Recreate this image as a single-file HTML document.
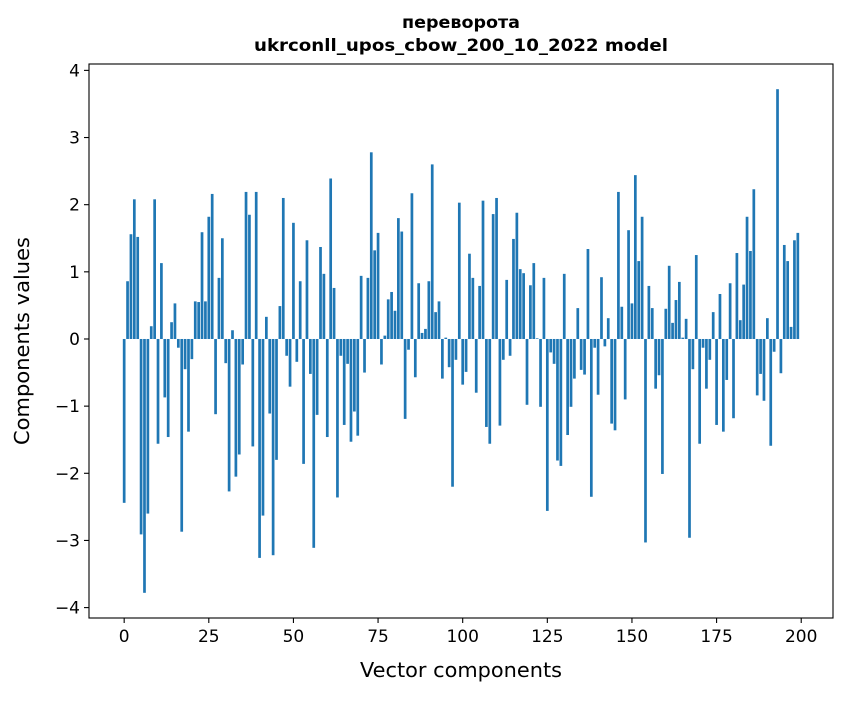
<!DOCTYPE html>
<html><head><meta charset="utf-8"><style>
body{margin:0;background:#fff;}
svg text{font-family:"DejaVu Sans","Liberation Sans",sans-serif;}
</style></head><body>
<svg id="chart" width="847" height="696" xmlns="http://www.w3.org/2000/svg">
<rect width="847" height="696" fill="#fff"/>
<text x="461" y="28" text-anchor="middle" font-size="17" font-weight="bold" font-family="Liberation Sans, sans-serif" textLength="118" lengthAdjust="spacingAndGlyphs">переворота</text>
<text x="461" y="51" text-anchor="middle" font-size="17" font-weight="bold" font-family="Liberation Sans, sans-serif" textLength="414" lengthAdjust="spacingAndGlyphs">ukrconll_upos_cbow_200_10_2022 model</text>
<g id="bars"></g>
<g id="yticks"></g>
<g id="xticks"></g>
<rect x="89" y="64" width="744" height="554" fill="none" stroke="#000" stroke-width="1.1"/>
<text x="461" y="677" text-anchor="middle" font-size="20" textLength="202" lengthAdjust="spacingAndGlyphs">Vector components</text>
<text transform="translate(29,341) rotate(-90)" text-anchor="middle" font-size="20" textLength="208" lengthAdjust="spacingAndGlyphs">Components values</text>
</svg>
<script>
const values = [-2.44,0.86,1.56,2.08,1.52,-2.91,-3.78,-2.6,0.19,2.08,
-1.56,1.13,-0.87,-1.46,0.25,0.53,-0.13,-2.87,-0.45,-1.38,
-0.3,0.56,0.55,1.59,0.56,1.82,2.16,-1.12,0.91,1.5,
-0.36,-2.27,0.13,-2.05,-1.72,-0.38,2.19,1.85,-1.6,2.19,
-3.26,-2.63,0.33,-1.11,-3.22,-1.8,0.49,2.1,
-0.25,-0.71,1.73,-0.34,0.86,-1.86,1.47,-0.52,-3.11,-1.13,1.37,0.97,-1.46,2.39,0.76,-2.36,-0.25,-1.28,-0.37,-1.53,-1.08,-1.44,0.94,-0.5,0.91,2.78,1.32,1.58,-0.38,0.05,0.59,0.7,0.42,1.8,1.6,-1.19,-0.16,2.17,-0.57,0.83,0.09,0.15,0.86,2.6,0.4,0.56,-0.59,
0.02,
-0.42,-2.2,-0.31,2.03,-0.68,-0.49,1.27,0.91,-0.8,0.79,2.06,-1.31,-1.56,1.86,2.1,-1.29,-0.31,0.88,-0.25,1.49,1.88,1.04,0.98,-0.98,0.8,1.13,0.01,-1.01,0.91,-2.56,-0.2,-0.37,-1.81,-1.89,0.97,-1.43,-1.01,-0.59,0.46,-0.46,-0.53,1.34,-2.35,-0.13,-0.83,0.92,-0.11,0.31,-1.26,-1.36,2.19,0.48,
-0.9,1.62,0.53,2.44,1.16,1.82,-3.03,0.79,0.46,-0.74,-0.54,-2.01,0.45,1.09,0.24,0.58,0.85,0.02,0.3,-2.96,-0.45,1.25,-1.56,-0.13,-0.74,-0.31,0.4,-1.28,0.67,-1.38,-0.61,0.83,-1.18,1.28,0.28,0.81,1.82,1.31,2.23,-0.84,-0.52,-0.92,0.31,-1.59,-0.19,3.72,-0.51,1.4,1.16,0.18,1.47,1.58];
const xTickValues = [0,25,50,75,100,125,150,175,200];
const yTickValues = [-4,-3,-2,-1,0,1,2,3,4];
const yTickLabels = ["\u22124","\u22123","\u22122","\u22121","0","1","2","3","4"];

const NS = "http://www.w3.org/2000/svg";
const L = 89, R = 833, T = 64, B = 618;
const n = values.length;
const xmin = -0.4 - 0.05 * (n - 1 + 0.8), xmax = n - 1 + 0.4 + 0.05 * (n - 1 + 0.8);
const vmin = Math.min(...values), vmax = Math.max(...values);
const ymin = vmin - 0.05 * (vmax - vmin), ymax = vmax + 0.05 * (vmax - vmin);
function xs(v){ return L + (v - xmin) / (xmax - xmin) * (R - L); }
function ys(v){ return B - (v - ymin) / (ymax - ymin) * (B - T); }

const bars = document.getElementById('bars');
values.forEach((v, i) => {
  const r = document.createElementNS(NS, 'rect');
  const x0 = xs(i - 0.4), x1 = xs(i + 0.4);
  const y0 = ys(Math.max(v, 0)), y1 = ys(Math.min(v, 0));
  r.setAttribute('x', x0); r.setAttribute('width', x1 - x0);
  r.setAttribute('y', y0); r.setAttribute('height', Math.max(y1 - y0, 0.3));
  r.setAttribute('fill', '#1f77b4');
  
  
  bars.appendChild(r);
});

const yg = document.getElementById('yticks');
yTickValues.forEach((v, k) => {
  const y = ys(v);
  const ln = document.createElementNS(NS, 'line');
  ln.setAttribute('x1', L - 5); ln.setAttribute('x2', L); ln.setAttribute('y1', y); ln.setAttribute('y2', y);
  ln.setAttribute('stroke', '#000'); ln.setAttribute('stroke-width', '1.1');
  
  
  yg.appendChild(ln);
  const t = document.createElementNS(NS, 'text');
  t.setAttribute('x', L - 9); t.setAttribute('y', y + 6);
  t.setAttribute('text-anchor', 'end'); t.setAttribute('font-size', '17');
  t.textContent = yTickLabels[k];
  
  
  yg.appendChild(t);
});

const xg = document.getElementById('xticks');
xTickValues.forEach(v => {
  const x = xs(v);
  const ln = document.createElementNS(NS, 'line');
  ln.setAttribute('x1', x); ln.setAttribute('x2', x); ln.setAttribute('y1', B); ln.setAttribute('y2', B + 5);
  ln.setAttribute('stroke', '#000'); ln.setAttribute('stroke-width', '1.1');
  
  
  xg.appendChild(ln);
  const t = document.createElementNS(NS, 'text');
  t.setAttribute('x', x); t.setAttribute('y', B + 24);
  t.setAttribute('text-anchor', 'middle'); t.setAttribute('font-size', '17');
  t.textContent = String(v);
  
  
  xg.appendChild(t);
});
</script>
</body></html>
